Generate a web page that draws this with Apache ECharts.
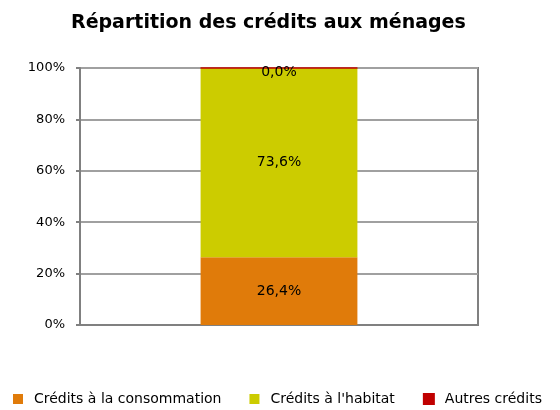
<!DOCTYPE html>
<html lang="fr">
<head>
<meta charset="UTF-8">
<title>Répartition des crédits aux ménages</title>
<script src="https://cdn.jsdelivr.net/npm/echarts@6/dist/echarts.min.js"></script>
<style>
  html, body { margin: 0; padding: 0; background: #fff; }
  #chart { width: 560px; height: 410px; }
</style>
</head>
<body>
<div id="chart"></div>
<script>
var categories = [''];
var seriesNames = ['Crédits à la consommation', "Crédits à l'habitat", 'Autres crédits'];
var consommation = [26.4];
var habitat = [73.6];
var autres = [0.0];
var yTicks = [0, 20, 40, 60, 80, 100];
var colors = ['#E07B0A', '#CCCC00', '#C00000'];

var font = 'DejaVu Sans';
function fmt(v) { return v.toFixed(1).replace('.', ',') + '%'; }

var chart = echarts.init(document.getElementById('chart'));

function makeSeries(name, data, color, offset) {
  return {
    name: name,
    type: 'bar',
    stack: 'total',
    data: data,
    barWidth: '39.4%',
    itemStyle: { color: color },
    label: {
      show: true,
      position: 'inside',
      offset: offset || [0, 0],
      color: '#000',
      fontFamily: font,
      fontSize: 14,
      formatter: function (p) { return fmt(p.value); }
    }
  };
}

// zero-height slice still shows as a thin red line on top of the bar
var autresSeries = makeSeries(seriesNames[2], autres, colors[2], [0, 4]);
autresSeries.itemStyle = { color: colors[2], borderColor: colors[2], borderWidth: 1 };

chart.setOption({
  animation: false,
  title: {
    text: 'Répartition des crédits aux ménages',
    left: 66,
    top: 9,
    textStyle: { fontFamily: font, fontSize: 19, fontWeight: 'bold', color: '#000' }
  },
  legend: {
    bottom: 4,
    left: 13,
    right: 0,
    padding: 0,
    itemWidth: 10,
    itemHeight: 10,
    itemGap: 28,
    icon: 'rect',
    textStyle: { fontFamily: font, fontSize: 14, color: '#000', padding: [0, 0, 0, 6] },
    data: seriesNames
  },
  grid: { left: 80, right: 82, top: 68, bottom: 85, show: true, borderColor: '#808080', borderWidth: 2 },
  xAxis: {
    type: 'category',
    data: categories,
    axisLine: { lineStyle: { color: '#808080', width: 2 } },
    axisTick: { show: false },
    axisLabel: { show: false }
  },
  yAxis: {
    type: 'value',
    min: yTicks[0],
    max: yTicks[yTicks.length - 1],
    interval: 20,
    axisLine: { show: true, lineStyle: { color: '#808080', width: 2 } },
    axisTick: { show: true, length: 4, lineStyle: { color: '#808080', width: 2 } },
    splitLine: { lineStyle: { color: '#A0A0A0', width: 2 } },
    axisLabel: {
      fontFamily: font, fontSize: 13, color: '#000', margin: 15,
      formatter: function (v) { return v + '%'; }
    }
  },
  series: [
    makeSeries(seriesNames[0], consommation, colors[0]),
    makeSeries(seriesNames[1], habitat, colors[1]),
    autresSeries
  ]
});
</script>
</body>
</html>
